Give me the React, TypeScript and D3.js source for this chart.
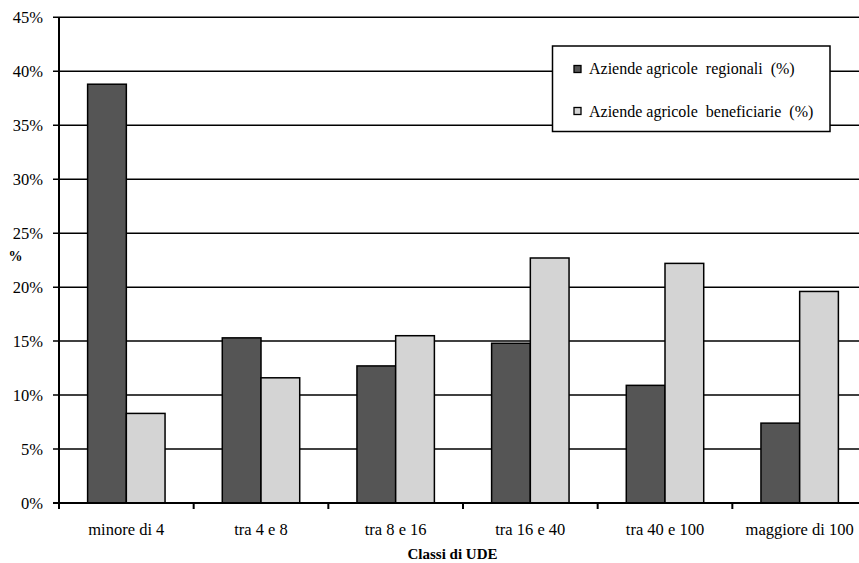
import React from "react";
import * as d3 from "d3";

const categories = ["minore di 4", "tra 4 e 8", "tra 8 e 16", "tra 16 e 40", "tra 40 e 100", "maggiore di 100"];
const seriesNames = ["Aziende agricole  regionali  (%)", "Aziende agricole  beneficiarie  (%)"];
const regionali = [38.8, 15.3, 12.7, 14.8, 10.9, 7.4];
const beneficiarie = [8.3, 11.6, 15.5, 22.7, 22.2, 19.6];
const yTicks = [0, 5, 10, 15, 20, 25, 30, 35, 40, 45];
const colors = ["#555555", "#d4d4d4"];

export default function App() {
  const W = 859, H = 563;
  const left = 59, right = 867, top = 17.3, bottom = 503;
  const x = d3.scaleBand<string>().domain(categories).range([left, right]).paddingInner(0).paddingOuter(0);
  const y = d3.scaleLinear().domain([0, 45]).range([bottom, top]);
  const bw = x.bandwidth();
  const groupW = bw * 0.575;
  const barW = groupW / 2;
  const tf: React.CSSProperties = { fontFamily: "Liberation Serif, Times New Roman, Times, serif" };
  const series = [regionali, beneficiarie];

  return (
    <svg width={W} height={H} style={{ position: "absolute", left: 0, top: 0, background: "#fff" }}>
      <rect x={0} y={0} width={W} height={H} fill="#fff" />
      {yTicks.map((t) => (
        <g key={t}>
          <line x1={left - 6} x2={right} y1={y(t)} y2={y(t)} stroke="#000" strokeWidth={t === 0 ? 2 : 1.5} />
          <text x={43} y={y(t)} dy="0.35em" textAnchor="end" fontSize={16.5} style={tf}>{t}%</text>
        </g>
      ))}
      {categories.map((c, i) => {
        const cx = (x(c) as number) + bw / 2;
        return (
          <g key={c}>
            {series.map((s, k) => (
              <rect key={k} x={cx - groupW / 2 + k * barW} y={y(s[i])} width={barW} height={bottom - y(s[i])}
                fill={colors[k]} stroke="#000" strokeWidth={1.5} />
            ))}
            <text x={cx} y={529} dy="0.35em" textAnchor="middle" fontSize={16.5} style={tf}>{c}</text>
          </g>
        );
      })}
      {categories.map((c) => (
        <line key={c} x1={x(c) as number} x2={x(c) as number} y1={bottom} y2={bottom + 6} stroke="#000" strokeWidth={2} />
      ))}
      <line x1={left} x2={right} y1={bottom} y2={bottom} stroke="#000" strokeWidth={2} />
      <line x1={left} x2={left} y1={top} y2={bottom} stroke="#000" strokeWidth={2} />
      <text x={15.5} y={260.5} textAnchor="middle" fontSize={14} fontWeight="bold" style={tf}>%</text>
      <text x={452.5} y={559} textAnchor="middle" fontSize={15} fontWeight="bold" style={tf}>Classi di UDE</text>
      <g>
        <rect x={552.5} y={46} width={277.5} height={85.5} fill="#fff" stroke="#000" strokeWidth={1.5} />
        {seriesNames.map((n, k) => (
          <g key={n}>
            <rect x={574} y={65.5 + k * 42} width={7} height={7} fill={colors[k]} stroke="#000" strokeWidth={1.3} />
            <text x={589} y={74.3 + k * 42.5} fontSize={16} style={{ ...tf, whiteSpace: "pre" }}>{n}</text>
          </g>
        ))}
      </g>
    </svg>
  );
}
